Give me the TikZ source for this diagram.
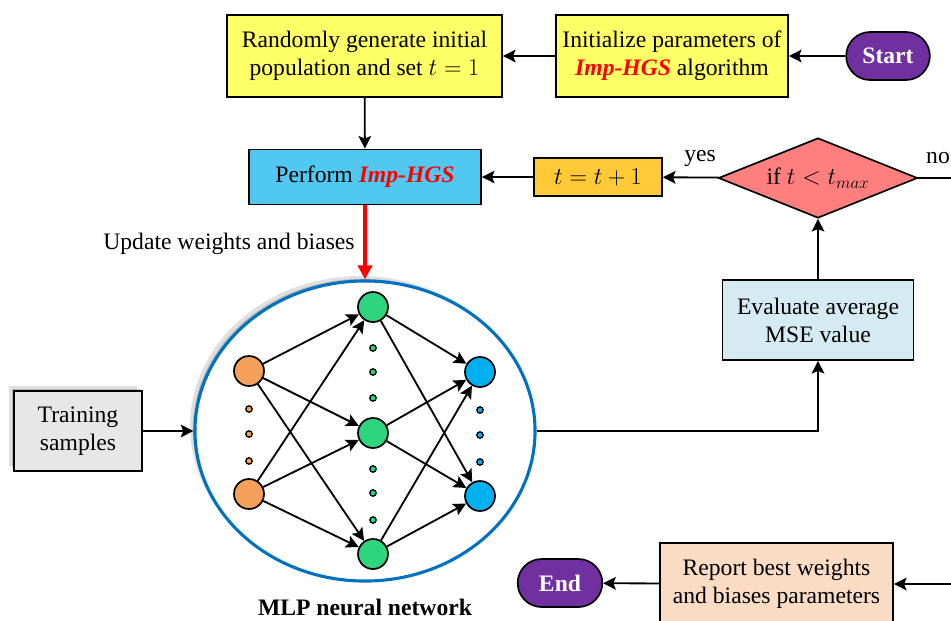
\documentclass[tikz,border=0pt]{standalone}
\usepackage{fontspec}
\setmainfont{Liberation Serif}
\usepackage{tikz}
\usetikzlibrary{arrows.meta}
\usetikzlibrary{calc}
\usetikzlibrary{shapes.geometric, shapes.misc, shadows}

\definecolor{amarillo}{HTML}{FFFF66}
\definecolor{morado}{HTML}{7030A0}
\definecolor{celeste}{HTML}{50C8F0}
\definecolor{dorado}{HTML}{FFCA35}
\definecolor{salmon}{HTML}{FF7F7F}
\definecolor{azulclaro}{HTML}{D5EBF1}
\definecolor{grisclaro}{HTML}{E7E7E7}
\definecolor{durazno}{HTML}{FADBC3}
\definecolor{azulborde}{HTML}{0070C0}
\definecolor{naranja}{HTML}{F4A05A}
\definecolor{verde}{HTML}{2ED47E}
\definecolor{azulneurona}{HTML}{00B0F0}

\newcommand{\imphgs}{\textcolor{red}{\textbf{\textit{Imp-HGS}}}}

\begin{document}
\begin{tikzpicture}[
        x=0.025cm, y=-0.025cm, % 1 unidad = 1 pixel de la figura
        font=\fontsize{16.8}{20}\selectfont,
        caja/.style={draw, line width=1.2pt, align=center, inner sep=2pt}, % Estilo para los bloques
        terminal/.style={rounded rectangle, draw, line width=1.2pt, fill=morado, text=white,
            font=\fontsize{16.8}{20}\selectfont\bfseries, minimum height=1.2cm}, % Inicio y fin
        flecha/.style={-{Stealth[length=9pt, width=9pt, inset=1.8pt]}, line width=1.3pt}, % Conectores
        sombra/.style={drop shadow={shadow xshift=-1.5pt, shadow yshift=1.5pt, opacity=.18, fill=black},
            drop shadow={shadow xshift=-3.5pt, shadow yshift=3.5pt, opacity=.12, fill=black}},
        neurona/.style={circle, draw, line width=1.2pt, minimum size=0.75cm, inner sep=0pt},
        punto/.style={circle, draw, line width=0.9pt, minimum size=0.16cm, inner sep=0pt}
    ]
        \useasboundingbox (0,0) rectangle (951,620);

        % --- Bloques del diagrama de flujo ---
        \node[caja, fill=amarillo, minimum width=6.875cm, minimum height=2.05cm] (random) at (364.5,56)
            {Randomly generate initial\\population and set $t=1$};
        \node[caja, fill=amarillo, minimum width=5.8cm, minimum height=2.05cm] (init) at (672,56)
            {Initialize parameters of\\\imphgs{} algorithm};
        \node[terminal, minimum width=2.325cm] (start) at (888,56) {Start};
        \node[caja, fill=celeste, minimum width=5.8cm, minimum height=1.375cm] (perform) at (365,177)
            {Perform \imphgs};
        \node[caja, fill=dorado, minimum width=3.2cm, minimum height=0.95cm] (incr) at (598,177)
            {$t=t+1$};
        \node[diamond, draw, line width=1.2pt, fill=salmon, shape aspect=2.5, minimum width=4.975cm,
            minimum height=2cm, inner sep=0pt] (cond) at (818,178) {if $t<t_{max}$};
        \node[caja, fill=azulclaro, minimum width=4.775cm, minimum height=2cm] (eval) at (818,320)
            {Evaluate average\\MSE value};
        \node[caja, fill=grisclaro, sombra, minimum width=3.2cm, minimum height=2cm] (train) at (78,431)
            {Training\\samples};
        \node[caja, fill=durazno, minimum width=5.825cm, minimum height=2.05cm] (report) at (776.5,584)
            {Report best weights\\and biases parameters};
        \node[terminal, minimum width=2.35cm] (end) at (560,583) {End};

        % --- Red neuronal MLP ---
        \node[ellipse, draw=azulborde, line width=2.2pt, fill=white, sombra,
            minimum width=8.5cm, minimum height=7.5cm] (mlp) at (365,431) {};
        \node[font=\fontsize{16.8}{20}\selectfont\bfseries] (mlptxt) at (365,607) {MLP neural network};

        % Neuronas de cada capa
        \foreach \nombre/\px/\py in {i1/249/371, i2/249/494}
            \node[neurona, fill=naranja] (\nombre) at (\px,\py) {};
        \foreach \nombre/\px/\py in {h1/373/307, h2/373/433, h3/373/554}
            \node[neurona, fill=verde] (\nombre) at (\px,\py) {};
        \foreach \nombre/\px/\py in {o1/480/372, o2/480/496}
            \node[neurona, fill=azulneurona] (\nombre) at (\px,\py) {};

        % Puntos suspensivos
        \foreach \py [count=\k] in {409,434,461}
            \node[punto, fill=naranja] (pi\k) at (249,\py) {};
        \foreach \py [count=\k] in {348,372,398,469,493,520}
            \node[punto, fill=verde] (ph\k) at (373,\py) {};
        \foreach \py [count=\k] in {410,435,462}
            \node[punto, fill=azulneurona] (po\k) at (480,\py) {};

        % Conexiones entre capas
        \foreach \a in {i1,i2}
            \foreach \b in {h1,h2,h3}
                \draw[flecha] (\a) -- (\b);
        \foreach \a in {h1,h2,h3}
            \foreach \b in {o1,o2}
                \draw[flecha] (\a) -- (\b);

        % --- Conectores ---
        \draw[flecha] (start) -- (init);
        \draw[flecha] (init) -- (random);
        \draw[flecha] (random) -- (perform);
        \draw[flecha] (incr) -- (perform);
        \draw[flecha] (cond) -- (incr);
        \node (yes) at (700,158) {yes};
        \coordinate (noend) at (960,178);
        \draw[line width=1.3pt] (cond.east) -- (noend);
        \node (no) at (938,158) {no};
        \draw[flecha] (eval) -- (cond);
        \draw[flecha] (mlp.east) -| (eval.south);
        \draw[flecha] (train) -- (mlp.west);
        \draw[-{Triangle[length=10pt, width=10pt]}, red, line width=2.5pt] (perform) -- (mlp.north);
        \node (update) at (229,244) {Update weights and biases};
        \coordinate (reportin) at (960,584);
        \draw[flecha] (reportin) -- (report);
        \draw[flecha] (report) -- (end);

    \end{tikzpicture}
\end{document}
